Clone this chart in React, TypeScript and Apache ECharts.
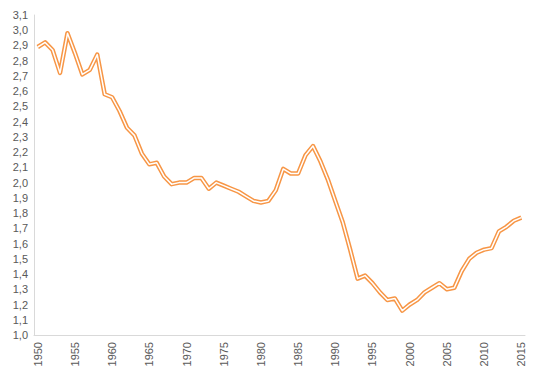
import React, { useEffect, useRef } from "react";
import * as echarts from "echarts";

const years: string[] = [];
for (let y = 1950; y <= 2015; y++) years.push(String(y));

const values: number[] = [
  2.89, 2.92, 2.87, 2.72, 2.98, 2.85, 2.71, 2.74, 2.84, 2.58,
  2.56, 2.47, 2.36, 2.31, 2.19, 2.12, 2.13, 2.04, 1.99, 2.0,
  2.0, 2.03, 2.03, 1.96, 2.0, 1.98, 1.96, 1.94, 1.91, 1.88,
  1.87, 1.88, 1.95, 2.09, 2.06, 2.06, 2.18, 2.24, 2.14, 2.02,
  1.88, 1.74, 1.56, 1.37, 1.39, 1.34, 1.28, 1.23, 1.24, 1.16,
  1.2, 1.23, 1.28, 1.31, 1.34, 1.3, 1.31, 1.42, 1.5, 1.54,
  1.56, 1.57, 1.68, 1.71, 1.75, 1.77,
];

const yMin = 1.0;
const yMax = 3.1;
const yStep = 0.1;

export default function App() {
  const ref = useRef<HTMLDivElement>(null);
  useEffect(() => {
    if (!ref.current) return;
    const chart = echarts.init(ref.current, undefined, { renderer: "svg" });
    const font = "'Liberation Sans', Arial, sans-serif";
    chart.setOption({
      animation: false,
      grid: { left: 34, right: 14, top: 15, bottom: 41, containLabel: false },
      xAxis: {
        type: "category",
        data: years,
        boundaryGap: true,
        axisLine: { show: true, lineStyle: { color: "#d9d9d9", width: 1 } },
        axisTick: { show: false },
        axisLabel: {
          interval: 4,
          rotate: 90,
          color: "#595959",
          fontSize: 11,
          fontFamily: font,
          margin: 7,
        },
        splitLine: { show: false },
      },
      yAxis: {
        type: "value",
        min: yMin,
        max: yMax,
        interval: yStep,
        axisLine: { show: true, lineStyle: { color: "#d9d9d9", width: 1 } },
        axisTick: { show: false },
        splitLine: { show: false },
        axisLabel: {
          color: "#595959",
          fontSize: 11,
          fontFamily: font,
          margin: 6,
          formatter: (v: number) => v.toFixed(1).replace(".", ","),
        },
      },
      series: [
        {
          type: "line",
          data: values,
          symbol: "none",
          lineStyle: { color: "#F79646", width: 4.5, join: "round" },
          z: 2,
        },
        {
          type: "line",
          data: values,
          symbol: "none",
          lineStyle: { color: "#ffffff", width: 1.5, join: "round" },
          z: 3,
        },
      ],
    });
    return () => chart.dispose();
  }, []);
  return <div ref={ref} style={{ width: 539, height: 376, margin: -8 }} />;
}
